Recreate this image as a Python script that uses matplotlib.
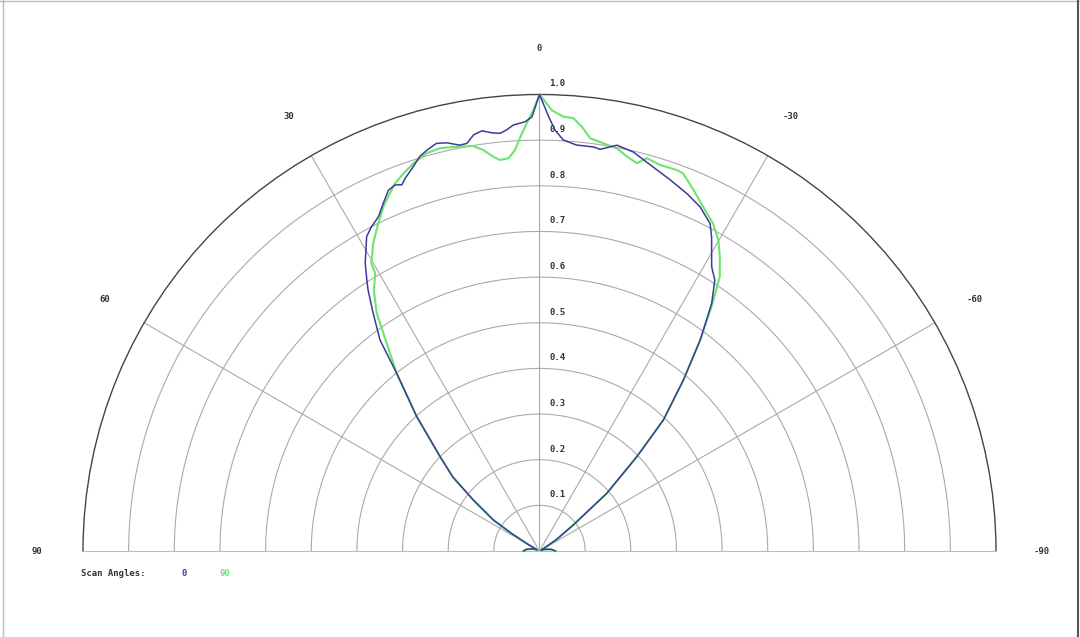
"""
Polar beam pattern for two scan angles (half-plane plot)
"""

import numpy as np
import matplotlib.pyplot as plt
from matplotlib.transforms import offset_copy

# scan angle 0 (blue): angle in degrees (positive = left), normalised level
ang_0 = [90, 82, 72, 64, 60, 58, 56.1, 52.4, 49.5, 46.5, 42.4, 38.8, 37.1, 35.0, 33.3,
         32.5, 31.2, 28.8, 27.4, 25.7, 24.2, 22.7, 21.5, 20.6, 19.8, 18.2, 16.9,
         15.7, 14.2, 12.8, 11.1, 10.1, 9.0, 7.8, 6.5, 5.4, 4.5, 3.5, 1.9, 1.0, 0,
         -1.2, -2.1, -3.3, -5.2, -7.6, -8.6, -10.8, -13.2, -16.0, -19.4, -22.4,
         -25.0, -27.5, -28.7, -31.2, -32.9, -34.8, -37.3, -40.1, -43.4, -45.9,
         -49.4, -52.4, -56, -59, -63, -72, -82, -90]
lvl_0 = [0.035, 0.028, 0.015, 0.006, 0.03, 0.07, 0.122, 0.183, 0.25, 0.30, 0.399,
         0.499, 0.579, 0.635, 0.684, 0.704, 0.737, 0.786, 0.80, 0.813, 0.835, 0.857,
         0.862, 0.857, 0.868, 0.886, 0.903, 0.912, 0.921, 0.917, 0.906, 0.907,
         0.923, 0.929, 0.922, 0.919, 0.925, 0.935, 0.941, 0.951, 1.0,
         0.952, 0.923, 0.902, 0.893, 0.893, 0.890, 0.905, 0.898, 0.880, 0.862,
         0.847, 0.832, 0.809, 0.785, 0.728, 0.707, 0.661, 0.581, 0.489, 0.395,
         0.297, 0.194, 0.093, 0.045, 0.012, 0.004, 0.012, 0.026, 0.035]

# scan angle 90 (green)
ang_90 = [90, 82, 72, 64, 60, 58, 56.1, 52.4, 49.5, 46.5, 42.4, 38.8, 36.5, 34.4,
          32.5, 30.6, 30.3, 28.4, 26.2, 24.4, 23.1, 21.5, 19.8, 18.0, 15.8, 13.9,
          11.6, 9.3, 8.0, 6.7, 5.8, 4.5, 3.5, 2.4, 1.5, 0.8, 0,
          -1.6, -3.1, -4.5, -5.7, -7.0, -8.9, -10.9, -12.5, -14.1, -15.3, -17.3,
          -19.8, -20.8, -23.1, -25.4, -27.9, -29.9, -31.5, -33.3, -35.0, -37.3,
          -40.1, -43.4, -45.9, -49.4, -52.4, -56, -59, -63, -72, -82, -90]
lvl_90 = [0.035, 0.028, 0.015, 0.006, 0.03, 0.07, 0.122, 0.183, 0.25, 0.30, 0.399,
          0.499, 0.56, 0.631, 0.675, 0.707, 0.730, 0.766, 0.800, 0.828, 0.844,
          0.865, 0.879, 0.893, 0.906, 0.909, 0.904, 0.899, 0.887, 0.870, 0.861,
          0.863, 0.880, 0.916, 0.944, 0.966, 1.0,
          0.966, 0.953, 0.951, 0.934, 0.911, 0.904, 0.898, 0.885, 0.876, 0.892,
          0.886, 0.887, 0.885, 0.860, 0.835, 0.812, 0.786, 0.756, 0.719, 0.66,
          0.581, 0.489, 0.395, 0.297, 0.194, 0.093, 0.045, 0.012, 0.004, 0.012,
          0.026, 0.035]

ring_vals = np.arange(1, 11) / 10
spoke_angles = [-90, -60, -30, 0, 30, 60, 90]
spoke_labels = ["-90", "-60", "-30", "0", "30", "60", "90"]

BLUE = "#3b3b9c"
GREEN = "#6ee46e"
TXT = "#333333"
FONT = dict(family="DejaVu Sans Mono", weight="bold", size=6.5)

W, H = 1080, 637
cx, cy, R = 539.5, 551, 456.5   # centre and radius in image pixels (y from top)

fig = plt.figure(figsize=(10.8, 6.37), dpi=100)
# the half-wedge is drawn at half the box size and centred in it, so use a 2x box
mid_y = H - (cy - R / 2)
ax = fig.add_axes([(cx - 2 * R) / W, (mid_y - R) / H, 4 * R / W, 2 * R / H],
                  projection="polar")
ax.set_theta_zero_location("N")
ax.set_theta_direction(1)
ax.set_thetamin(-90)
ax.set_thetamax(90)
ax.set_ylim(0, 1.0)

# grid
ax.grid(False)
ax.set_xticks([])
ax.set_yticks([])
th = np.linspace(-np.pi / 2, np.pi / 2, 400)
for r in ring_vals[:-1]:
    ax.plot(th, np.full_like(th, r), color="#aaaaaa", lw=0.8, zorder=1)
for a in spoke_angles[1:-1]:
    ax.plot([np.radians(a)] * 2, [0, 1], color="#aaaaaa", lw=0.8, zorder=1)
ax.spines["polar"].set_color("#444444")
ax.spines["polar"].set_linewidth(1.0)
for s in ("start", "end"):
    ax.spines[s].set_color("#bbbbbb")
    ax.spines[s].set_linewidth(0.8)
ax.spines["inner"].set_visible(False)

# curves
ax.plot(np.radians(ang_90), lvl_90, color=GREEN, lw=1.5, zorder=3, clip_on=False)
ax.plot(np.radians(ang_0), lvl_0, color=BLUE, lw=1.1, zorder=4, clip_on=False)

# angle labels
for a, lab in zip(spoke_angles, spoke_labels):
    ax.text(np.radians(a), 1.1, lab, ha="center", va="center", color=TXT,
            clip_on=False, **FONT)

# radial labels
lab_tr = offset_copy(ax.transData, fig=fig, x=18, y=10.5, units="dots")
for r in ring_vals:
    ax.text(0, r, f"{r:.1f}", transform=lab_tr, ha="center", va="center",
            color=TXT, clip_on=False, **FONT)

# legend
fig.text(81 / W, 1 - 573 / H, "Scan Angles:", ha="left", va="center", color=TXT, **FONT)
fig.text(184 / W, 1 - 573 / H, "0", ha="center", va="center", color=BLUE, **FONT)
fig.text(225 / W, 1 - 573 / H, "90", ha="center", va="center", color=GREEN, **FONT)

# frame
fig.add_artist(plt.Line2D([0, 1], [0.999, 0.999], transform=fig.transFigure, color="#bbbbbb", lw=1))
fig.add_artist(plt.Line2D([0.003, 0.003], [0, 1], transform=fig.transFigure, color="#bbbbbb", lw=1))
fig.add_artist(plt.Line2D([0.998, 0.998], [0, 1], transform=fig.transFigure, color="#555555", lw=1.5))

fig.savefig("out.png", dpi=100)
